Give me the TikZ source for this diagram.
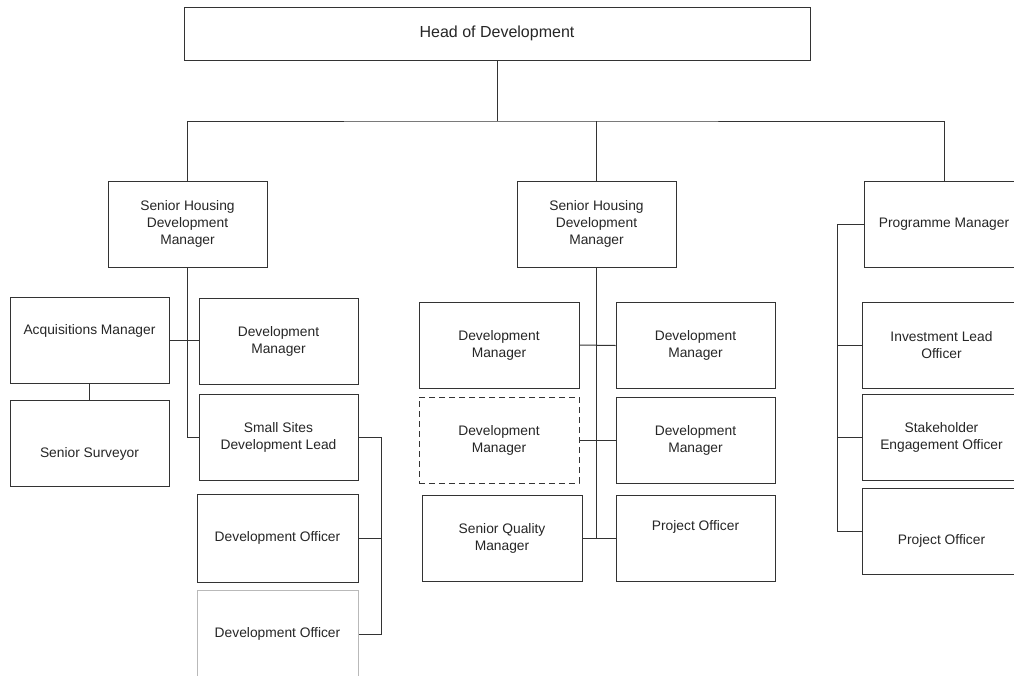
\documentclass[tikz,border=0pt]{standalone}
\usepackage{fontspec}
\setmainfont{Liberation Sans}
\usetikzlibrary{positioning,calc}
\definecolor{linecolor}{gray}{0.2}
\definecolor{textcolor}{gray}{0.15}
\newcommand{\lift}[2]{\raisebox{#1}[0pt][0pt]{#2}}

\begin{document}
\begin{tikzpicture}[
  x=1pt,y=-1pt,
  box/.style={draw=linecolor,line width=1pt,align=center,inner sep=2pt,text=textcolor,
    font=\fontsize{13.8}{17}\selectfont,minimum width=159pt,minimum height=86pt},
  dashbox/.style={box,dashed,dash pattern=on 6pt off 4pt},
  faintbox/.style={box,draw=gray!55},
  link/.style={draw=linecolor,line width=1pt}
]
\useasboundingbox (0,0) rectangle (1014,675);
\clip (0,0) rectangle (1014,675);
\fill[white] (0,0) rectangle (1014,675);

\node[box,minimum width=626pt,minimum height=53pt,font=\fontsize{16}{19}\selectfont] (head) at (497,33.5) {Head of Development};

\node[box] (shdmA) at (187.5,224) {Senior Housing\\Development\\Manager};
\node[box] (shdmB) at (596.5,224) {Senior Housing\\Development\\Manager};
\node[box] (progmgr) at (944,224) {Programme Manager};

\node[box] (acq) at (89.5,340.5) {\lift{6pt}{Acquisitions Manager}};
\node[box] (dmA) at (278.5,341.5) {Development\\Manager};
\node[box] (surveyor) at (89.5,443.5) {\lift{-14pt}{Senior Surveyor}};
\node[box] (smallsites) at (278.5,437.5) {Small Sites\\Development Lead};
\node[box,minimum width=161pt,minimum height=88pt] (officerA) at (277.5,538) {Development Officer};
\node[faintbox,minimum width=161pt,minimum height=88pt] (officerB) at (277.5,634) {\raisebox{1.5pt}{Development Officer}};

\node[box,minimum width=160pt] (dmB1) at (499,345) {Development\\Manager};
\node[box] (dmB2) at (695.5,345.5) {Development\\Manager};
\node[dashbox,minimum width=160pt] (dmB3) at (499,440) {Development\\Manager};
\node[box] (dmB4) at (695.5,440) {Development\\Manager};
\node[box,minimum width=160pt] (quality) at (502,538.5) {Senior Quality\\Manager};
\node[box] (projB) at (695.5,538.5) {\lift{8pt}{Project Officer}};

\node[box] (invest) at (941.5,345) {Investment Lead\\Officer};
\node[box] (stake) at (941.5,437.5) {Stakeholder\\Engagement Officer};
\node[box] (projC) at (941.5,531) {\lift{-13.5pt}{Project Officer}};

\coordinate (bus) at (497,121);
\draw[link] (head) -- (bus);
\draw[link] (shdmA.north) |- (bus) -| (progmgr.north);
\draw[link] (shdmB.north) -- (shdmB.north |- bus);

\draw[link] (shdmA.south) |- (smallsites.west);
\draw[link] (acq.east) -- (acq.east -| dmA.west);
\draw[link] (acq.south) -- (surveyor.north);
\draw[link] (smallsites.east) -- ++(23,0) coordinate (ssbus) |- (officerB.east);
\draw[link] (ssbus |- officerA.east) -- (officerA.east);

\draw[link] (shdmB.south) -- (shdmB.south |- quality.east);
\draw[link] (dmB1.east) -- (dmB2.west);
\draw[link] (dmB3.east) -- (dmB4.west);
\draw[link] (quality.east) -- (projB.west);

\draw[link] (progmgr.west) -- ++(-27,0) coordinate (rbus) |- (projC.west);
\foreach \n in {invest,stake}
  \draw[link] (rbus |- \n.west) -- (\n.west);
\end{tikzpicture}
\end{document}
